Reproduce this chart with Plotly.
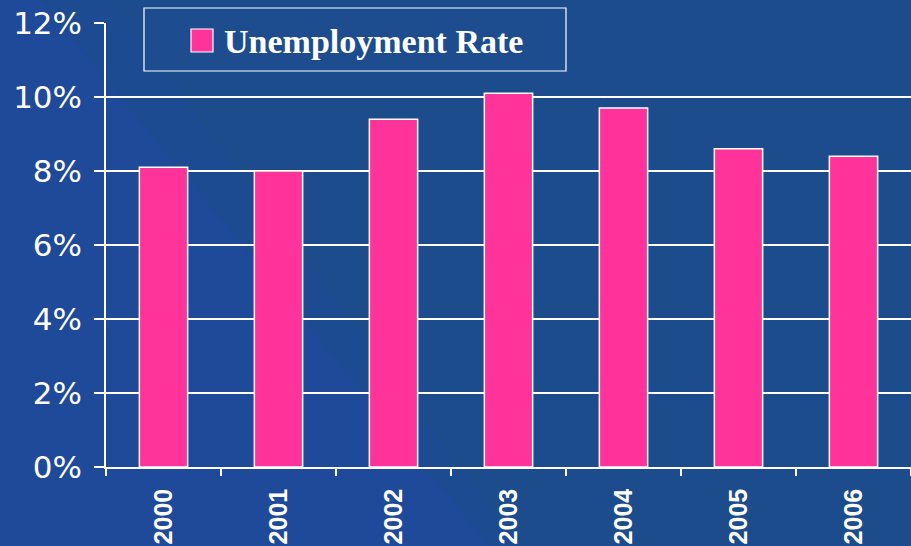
import plotly.graph_objects as go

# Annual unemployment rate (%)
years = ["2000", "2001", "2002", "2003", "2004", "2005", "2006"]
rates = [8.1, 8.0, 9.4, 10.1, 9.7, 8.6, 8.4]
series_name = "Unemployment Rate"
y_ticks = [0, 2, 4, 6, 8, 10, 12]
y_tick_text = [f"{v}%" for v in y_ticks]

W, H = 911, 546
M_L, M_R, M_T, M_B = 106, 0, 23, 79
PLOT_W = W - M_L - M_R
PLOT_H = H - M_T - M_B

BG = "#1C4C8C"
BG_LIGHT = "#2249A0"
PINK = "#FF3399"


def px_x(px):
    return (px - M_L) / PLOT_W


def px_y(py):
    return (H - M_B - py) / PLOT_H


fig = go.Figure()
fig.add_trace(go.Bar(
    x=years, y=rates, name=series_name,
    marker=dict(color=PINK, line=dict(color="white", width=1.5)),
    showlegend=False,
))

shapes = [
    # soft lighter diagonal wedges in the backdrop
    dict(type="path", xref="paper", yref="paper", layer="below",
         path=(f"M {px_x(0)},{px_y(0)} L {px_x(40)},{px_y(0)} "
               f"L {px_x(490)},{px_y(H)} L {px_x(0)},{px_y(H)} Z"),
         fillcolor=BG_LIGHT, line=dict(width=0), opacity=0.55),
    dict(type="path", xref="paper", yref="paper", layer="below",
         path=(f"M {px_x(0)},{px_y(0)} L {px_x(110)},{px_y(0)} "
               f"L {px_x(520)},{px_y(H)} L {px_x(0)},{px_y(H)} Z"),
         fillcolor=BG_LIGHT, line=dict(width=0), opacity=0.3),
    # legend frame
    dict(type="rect", xref="paper", yref="paper", layer="above",
         x0=px_x(144), x1=px_x(566), y0=px_y(71), y1=px_y(8),
         fillcolor="#1D4D8E", line=dict(color="white", width=1.2)),
    # legend swatch
    dict(type="rect", xref="paper", yref="paper", layer="above",
         x0=px_x(191), x1=px_x(213), y0=px_y(52), y1=px_y(29),
         fillcolor=PINK, line=dict(color="white", width=1.2)),
]

annotations = [
    dict(text=f"<b>{series_name}</b>", xref="paper", yref="paper",
         x=px_x(222), y=px_y(41), xanchor="left", yanchor="middle",
         showarrow=False,
         font=dict(family="Liberation Serif", size=34, color="white")),
]

fig.update_layout(
    width=W, height=H,
    margin=dict(l=M_L, r=M_R, t=M_T, b=M_B, pad=0),
    paper_bgcolor=BG, plot_bgcolor="rgba(0,0,0,0)",
    bargap=0.58,
    shapes=shapes, annotations=annotations,
    xaxis=dict(
        type="category", range=[-0.5, 6.5], tickson="boundaries",
        ticks="outside", ticklen=7, tickwidth=1.5, tickcolor="white",
        tickangle=-90, showgrid=False,
        showline=True, linecolor="white", linewidth=1.5,
        tickfont=dict(family="Liberation Sans", size=25, color="white",
                      weight="bold"),
        ticklabelstandoff=10,
    ),
    yaxis=dict(
        range=[0, 12], tickmode="array", tickvals=y_ticks, ticktext=y_tick_text,
        ticks="outside", ticklen=10, tickwidth=1.5, tickcolor="white",
        showgrid=True, gridcolor="white", gridwidth=1.5,
        showline=True, linecolor="white", linewidth=1.5,
        zeroline=False,
        tickfont=dict(family="DejaVu Sans", size=31, color="white"),
        ticklabelstandoff=6,
    ),
)

fig.write_html("out.html")
